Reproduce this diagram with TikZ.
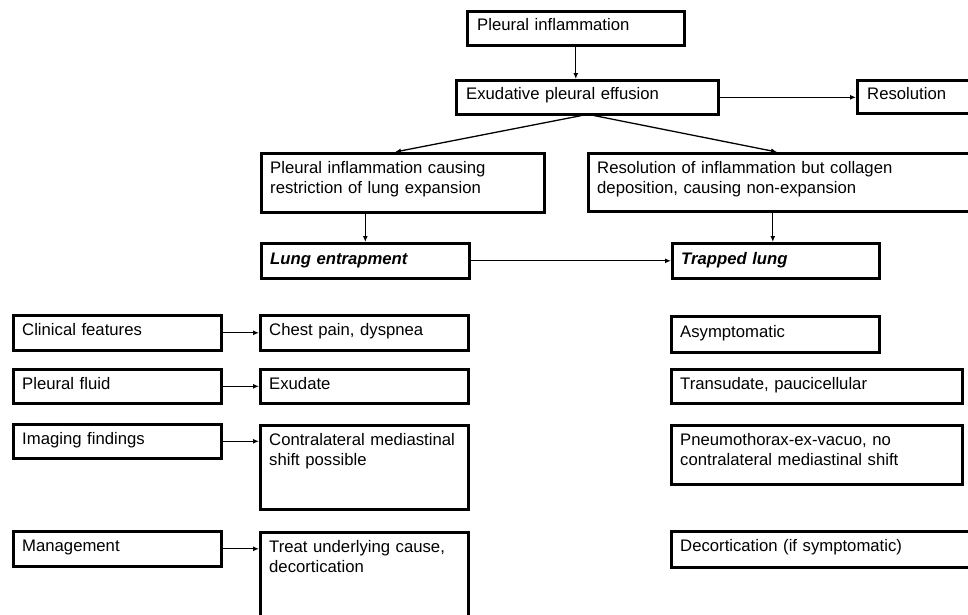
\documentclass[tikz,border=0pt]{standalone}
\usepackage{fontspec}
\setmainfont{Liberation Sans}
\usetikzlibrary{arrows.meta,calc}
\begin{document}
\begin{tikzpicture}[x=1pt,y=-1pt,
  box/.style={draw, line width=2.6pt, anchor=north west, inner sep=0pt},
  txt/.style={anchor=base west, inner sep=0pt, align=left, text width=#1,
    font=\fontsize{16.7}{20.5}\selectfont},
  txt/.default=300pt,
  arr/.style={line width=1.3pt, -{Latex[length=6pt,width=5pt]}}]
\useasboundingbox (0,0) rectangle (968,614);
\clip (0,0) rectangle (968,614);
\fill[white] (0,0) rectangle (968,614);
% top
\node[box, minimum width=217pt, minimum height=34pt] (pi) at (466,10) {};
\node[txt] (pit) at ([shift={(11,20)}]pi.north west) {Pleural inflammation};
\node[box, minimum width=262pt, minimum height=34pt] (ex) at (455,79) {};
\node[txt] (ext) at ([shift={(11,20)}]ex.north west) {Exudative pleural effusion};
\node[box, minimum width=160pt, minimum height=33pt] (res) at (856,79) {};
\node[txt] (rest) at ([shift={(11,20)}]res.north west) {Resolution};
% second row
\node[box, minimum width=283pt, minimum height=59pt] (pc) at (260,152) {};
\node[txt] (pct) at ([shift={(10,21)}]pc.north west) {Pleural inflammation causing\\restriction of lung expansion};
\node[box, minimum width=420pt, minimum height=58pt] (ri) at (587,152) {};
\node[txt=370pt] (rit) at ([shift={(10,21)}]ri.north west) {Resolution of inflammation but collagen\\deposition, causing non-expansion};
% third row
\node[box, minimum width=208pt, minimum height=35pt] (le) at (260,242) {};
\node[txt] (let) at ([shift={(10,22)}]le.north west) {\bfseries\itshape Lung entrapment};
\node[box, minimum width=207pt, minimum height=35pt] (tl) at (671,242) {};
\node[txt] (tlt) at ([shift={(10,22)}]tl.north west) {\bfseries\itshape Trapped lung};
% left column
\node[box, minimum width=208pt, minimum height=35pt] (cf) at (12,314) {};
\node[txt] (cft) at ([shift={(10,21)}]cf.north west) {Clinical features};
\node[box, minimum width=208pt, minimum height=34pt] (pf) at (12,368) {};
\node[txt] (pft) at ([shift={(10,21)}]pf.north west) {Pleural fluid};
\node[box, minimum width=208pt, minimum height=34pt] (im) at (12,423) {};
\node[txt] (imt) at ([shift={(10,21)}]im.north west) {Imaging findings};
\node[box, minimum width=208pt, minimum height=35pt] (mg) at (12,530) {};
\node[txt] (mgt) at ([shift={(10,21)}]mg.north west) {Management};
% middle column
\node[box, minimum width=208pt, minimum height=35pt] (cp) at (259,314) {};
\node[txt] (cpt) at ([shift={(10,21)}]cp.north west) {Chest pain, dyspnea};
\node[box, minimum width=208pt, minimum height=34pt] (ed) at (259,368) {};
\node[txt] (edt) at ([shift={(10,21)}]ed.north west) {Exudate};
\node[box, minimum width=208pt, minimum height=84pt] (co) at (259,424) {};
\node[txt] (cot) at ([shift={(10,21)}]co.north west) {Contralateral mediastinal\\shift possible};
\node[box, minimum width=208pt, minimum height=110pt] (tu) at (259,531) {};
\node[txt] (tut) at ([shift={(10,21)}]tu.north west) {Treat underlying cause,\\decortication};
% right column
\node[box, minimum width=208pt, minimum height=36pt] (as) at (670,315) {};
\node[txt] (ast) at ([shift={(10,22)}]as.north west) {Asymptomatic};
\node[box, minimum width=291pt, minimum height=34pt] (tr) at (670,368) {};
\node[txt] (trt) at ([shift={(10,21)}]tr.north west) {Transudate, paucicellular};
\node[box, minimum width=291pt, minimum height=59pt] (pn) at (670,424) {};
\node[txt] (pnt) at ([shift={(10,21)}]pn.north west) {Pneumothorax-ex-vacuo, no\\contralateral mediastinal shift};
\node[box, minimum width=340pt, minimum height=36pt] (de) at (670,530) {};
\node[txt] (det) at ([shift={(10,21)}]de.north west) {Decortication (if symptomatic)};
% connectors
\draw[arr] (pi.south) -- (pi.south |- ex.north);
\draw[arr] (ex.east) -- (ex.east -| res.west);
\draw[arr] ([xshift=-6pt]ex.south) -- ([xshift=135pt]pc.north west);
\draw[arr] ([xshift=7pt]ex.south) -- ([xshift=190pt]ri.north west);
\draw[arr] (pc.south -| le.north) -- (le.north);
\draw[arr] ([xshift=-3pt]tl.north |- ri.south) -- ([xshift=-3pt]tl.north);
\draw[arr] (le.east) -- (le.east -| tl.west);
\draw[arr] (cf.east) -- (cf.east -| cp.west);
\draw[arr] (pf.east) -- (pf.east -| ed.west);
\draw[arr] (im.east) -- (im.east -| co.west);
\draw[arr] (mg.east) -- (mg.east -| tu.west);
\end{tikzpicture}
\end{document}
